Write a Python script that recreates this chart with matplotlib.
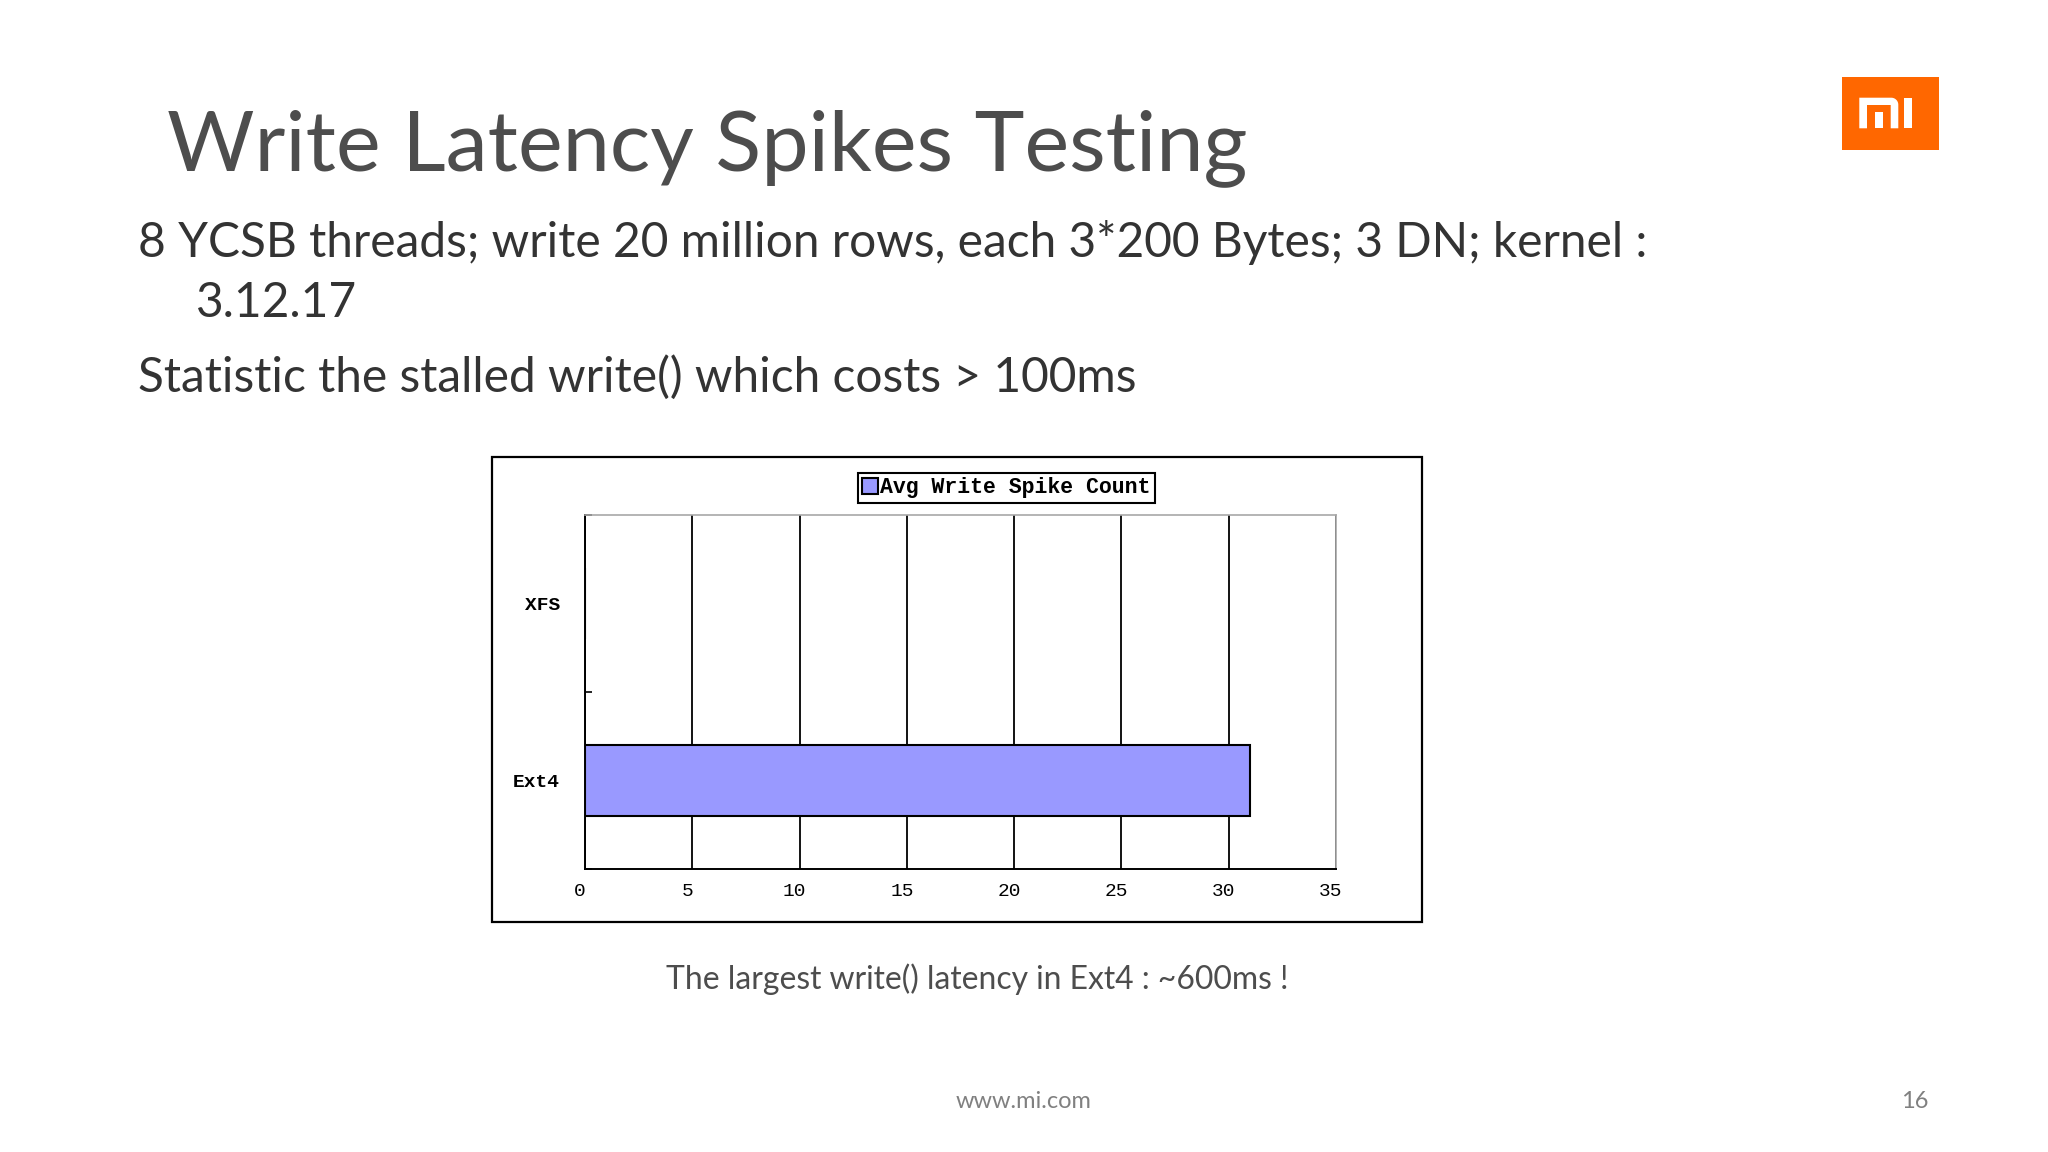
import matplotlib
matplotlib.use("Agg")
import matplotlib.pyplot as plt
from matplotlib.patches import Rectangle, Polygon
from matplotlib.transforms import ScaledTranslation
import numpy as np

# ---------------- data ----------------
categories = ["Ext4", "XFS"]
spike_counts = [31, 0]
series_name = "Avg Write Spike Count"
x_ticks = [0, 5, 10, 15, 20, 25, 30, 35]

title = "Write Latency Spikes Testing"
line1 = "8 YCSB threads; write 20 million rows, each 3*200 Bytes; 3 DN; kernel :"
line2 = "3.12.17"
line3 = "Statistic the stalled write() which costs > 100ms"
caption = "The largest write() latency in Ext4 : ~600ms !"
footer_url = "www.mi.com"
page_no = "16"

W, H = 2048, 1152
fig = plt.figure(figsize=(W / 100, H / 100), dpi=100)
fig.patch.set_facecolor("white")
renderer = fig.canvas.get_renderer()

SANS = ["Lato", "DejaVu Sans"]


def fx(x):
    return x / W


def fy(y):
    return 1 - y / H


def fit_text(s, x, y, width, size0=20, **kw):
    t = fig.text(fx(x), fy(y), s, fontsize=size0, **kw)
    bb = t.get_window_extent(renderer)
    t.set_fontsize(size0 * width / bb.width)
    return t


# ---------------- slide texts ----------------
fit_text(title, 167, 170, 1083, color="#4d4d4d", family=SANS, va="baseline", ha="left")
t1 = fit_text(line1, 138, 257, 1512, color="#333333", family=SANS, va="baseline", ha="left")
bs = t1.get_fontsize()
fig.text(fx(196), fy(317), line2, fontsize=bs, color="#333333", family=SANS, va="baseline", ha="left")
fig.text(fx(138), fy(392), line3, fontsize=bs, color="#333333", family=SANS, va="baseline", ha="left")
fit_text(caption, 666, 989, 624, color="#4d4d4d", family=SANS, va="baseline", ha="left")
fit_text(footer_url, 956, 1108, 136, color="#808080", family=SANS, va="baseline", ha="left")
fig.text(fx(1929), fy(1108), page_no, fontsize=17, color="#808080", family=SANS, va="baseline", ha="right")

# ---------------- logo ----------------
ORANGE = "#FF6700"
fig.patches.append(Rectangle((fx(1841.5), fy(150)), (1938.5 - 1841.5) / W, (150 - 77) / H,
                             transform=fig.transFigure, facecolor=ORANGE, edgecolor="none"))


def rect_px(x0, y0, x1, y1, color="white"):
    fig.patches.append(Rectangle((fx(x0), fy(y1)), (x1 - x0) / W, (y1 - y0) / H,
                                 transform=fig.transFigure, facecolor=color, edgecolor="none"))


# "m" outer arch with rounded top-right corner
r = 7.0
xl, xr, yt, yb = 1859.3, 1898.3, 97.7, 128.3
ang = np.linspace(np.pi / 2, 0, 12)
pts = [(xl, yb), (xl, yt), (xr - r, yt)]
pts += [(xr - r + r * np.cos(a), yt + r - r * np.sin(a)) for a in ang]
pts += [(xr, yb), (xr - 7.6, yb), (xr - 7.6, yt + 7.3), (xl + 7.7, yt + 7.3), (xl + 7.7, yb)]
fig.patches.append(Polygon([(fx(px), fy(py)) for px, py in pts], closed=True,
                           transform=fig.transFigure, facecolor="white", edgecolor="none"))
rect_px(1875.3, 111.7, 1882.7, 128.3)   # middle stem
rect_px(1904.0, 97.7, 1911.7, 128.3)    # "i"

# ---------------- chart frame ----------------
fig.patches.append(Rectangle((fx(492), fy(922)), (1422 - 492) / W, (922 - 457) / H,
                             transform=fig.transFigure, facecolor="none",
                             edgecolor="black", linewidth=1.6))

# ---------------- chart ----------------
ax = fig.add_axes([fx(585), fy(869), (1336 - 585) / W, (869 - 515) / H])
ypos = np.arange(len(categories))
ax.barh(ypos, spike_counts, height=0.4, color="#9999FF", edgecolor="black",
        linewidth=1.5, label=series_name, zorder=3)
ax.set_xlim(0, 35)
ax.set_ylim(-0.5, 1.5)
ax.set_xticks(x_ticks)
ax.set_xticklabels([str(v) for v in x_ticks], family=["Liberation Mono", "DejaVu Sans Mono"],
                   fontsize=14, color="black")
ax.set_yticks(ypos)
ax.set_yticklabels(categories, family=["Liberation Mono", "DejaVu Sans Mono"],
                   fontsize=14, fontweight="bold", color="black")
ax.tick_params(axis="x", length=0, pad=10)
ax.tick_params(axis="y", which="major", length=0, pad=18)
ax.set_yticks([-0.5, 0.5, 1.5], minor=True)
ax.tick_params(axis="y", which="minor", direction="in", length=5, width=1.2, color="black")
for lab in ax.get_xticklabels():
    lab.set_transform(lab.get_transform() + ScaledTranslation(-5 / 100, 0, fig.dpi_scale_trans))

ax.xaxis.grid(True, color="black", linewidth=1.3, zorder=0)
ax.set_axisbelow(True)
ax.spines["left"].set_color("black")
ax.spines["left"].set_linewidth(1.4)
ax.spines["bottom"].set_color("black")
ax.spines["bottom"].set_linewidth(1.4)
ax.spines["top"].set_color("#a8a8a8")
ax.spines["right"].set_color("#a8a8a8")
ax.spines["top"].set_linewidth(1.2)
ax.spines["right"].set_linewidth(1.2)

leg = ax.legend(loc="center", bbox_to_anchor=(fx((855 + 1158) / 2), fy(488)),
                bbox_transform=fig.transFigure, frameon=True, fancybox=False,
                edgecolor="black", framealpha=1, borderpad=0.2, handlelength=0.75,
                handleheight=0.75, handletextpad=0.1,
                prop={"family": ["Liberation Mono", "DejaVu Sans Mono"], "size": 15.5, "weight": "bold"})
leg.get_frame().set_linewidth(1.5)

fig.savefig("out.png", dpi=100, facecolor="white")
